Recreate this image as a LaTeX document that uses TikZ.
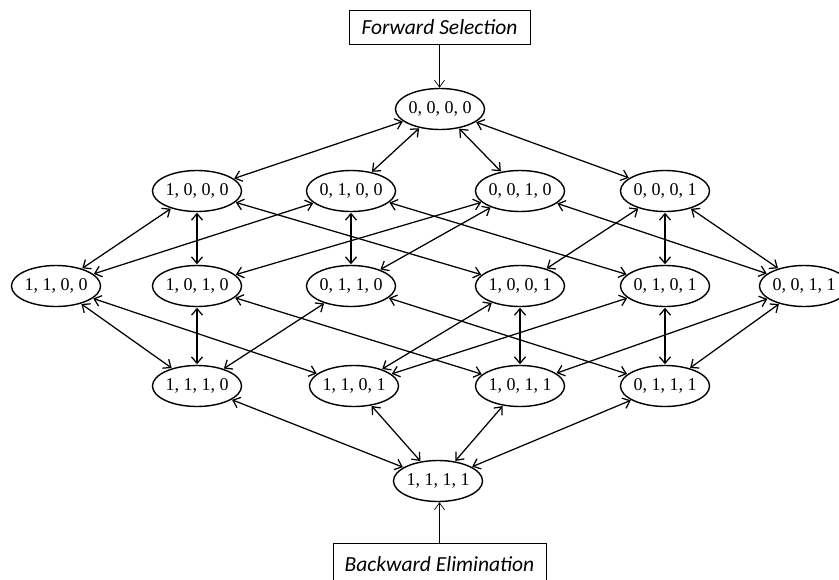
\documentclass[tikz,border=0pt]{standalone}
\usepackage{fontspec}
\setmainfont{Liberation Serif}
\newfontfamily\notefont{Carlito}
\usetikzlibrary{shapes.geometric,arrows.meta}

\tikzset{
  state/.style={draw, line width=1.4pt, ellipse, inner sep=0pt,
    minimum width=89pt, minimum height=41pt,
    font=\fontsize{18}{20}\selectfont},
  notebox/.style={draw, line width=0.7pt, rectangle, inner sep=0pt,
    font=\notefont\itshape\fontsize{21.5}{24}\selectfont},
  link/.style={line width=1.25pt, {Straight Barb[length=6.5pt,width=11pt]}-{Straight Barb[length=6.5pt,width=11pt]}, shorten <=0.5pt, shorten >=0.5pt},
  entry/.style={line width=0.7pt, -{Straight Barb[length=7pt,width=10pt]}}
}

\begin{document}
\begin{tikzpicture}[x=1pt,y=-1pt]
\useasboundingbox (0,0) rectangle (839,579);

% entry boxes
\node[notebox, minimum width=181pt, minimum height=34pt] (fs) at (439.5,27) {Forward Selection};
\node[notebox, minimum width=213pt, minimum height=42pt] (be) at (439.5,564) {Backward Elimination};

% lattice of subsets
\node[state] (n0000) at (440,109) {0, 0, 0, 0};

\node[state] (n1000) at (197,191) {1, 0, 0, 0};
\node[state] (n0100) at (351,191) {0, 1, 0, 0};
\node[state] (n0010) at (520,191) {0, 0, 1, 0};
\node[state] (n0001) at (665,191) {0, 0, 0, 1};

\node[state] (n1100) at (56,286) {1, 1, 0, 0};
\node[state] (n1010) at (197,286) {1, 0, 1, 0};
\node[state] (n0110) at (351,286) {0, 1, 1, 0};
\node[state] (n1001) at (520,286) {1, 0, 0, 1};
\node[state] (n0101) at (665,286) {0, 1, 0, 1};
\node[state] (n0011) at (804,286) {0, 0, 1, 1};

\node[state] (n1110) at (197,386) {1, 1, 1, 0};
\node[state] (n1101) at (354,386) {1, 1, 0, 1};
\node[state] (n1011) at (520,386) {1, 0, 1, 1};
\node[state] (n0111) at (665,386) {0, 1, 1, 1};

\node[state] (n1111) at (438,481) {1, 1, 1, 1};

% entry arrows
\draw[entry] (fs.south) -- (fs.south |- n0000.north);
\draw[entry] (be.north) -- (be.north |- n1111.south);

% one-bit neighbours
\foreach \a/\b in {
  0000/1000, 0000/0100, 0000/0010, 0000/0001,
  1000/1100, 1000/1010, 1000/1001,
  0100/1100, 0100/0110, 0100/0101,
  0010/1010, 0010/0110, 0010/0011,
  0001/1001, 0001/0101, 0001/0011,
  1100/1110, 1100/1101,
  1010/1110, 1010/1011,
  0110/1110, 0110/0111,
  1001/1101, 1001/1011,
  0101/1101, 0101/0111,
  0011/1011, 0011/0111,
  1110/1111, 1101/1111, 1011/1111, 0111/1111}
  \draw[link] (n\a) -- (n\b);
\end{tikzpicture}
\end{document}
